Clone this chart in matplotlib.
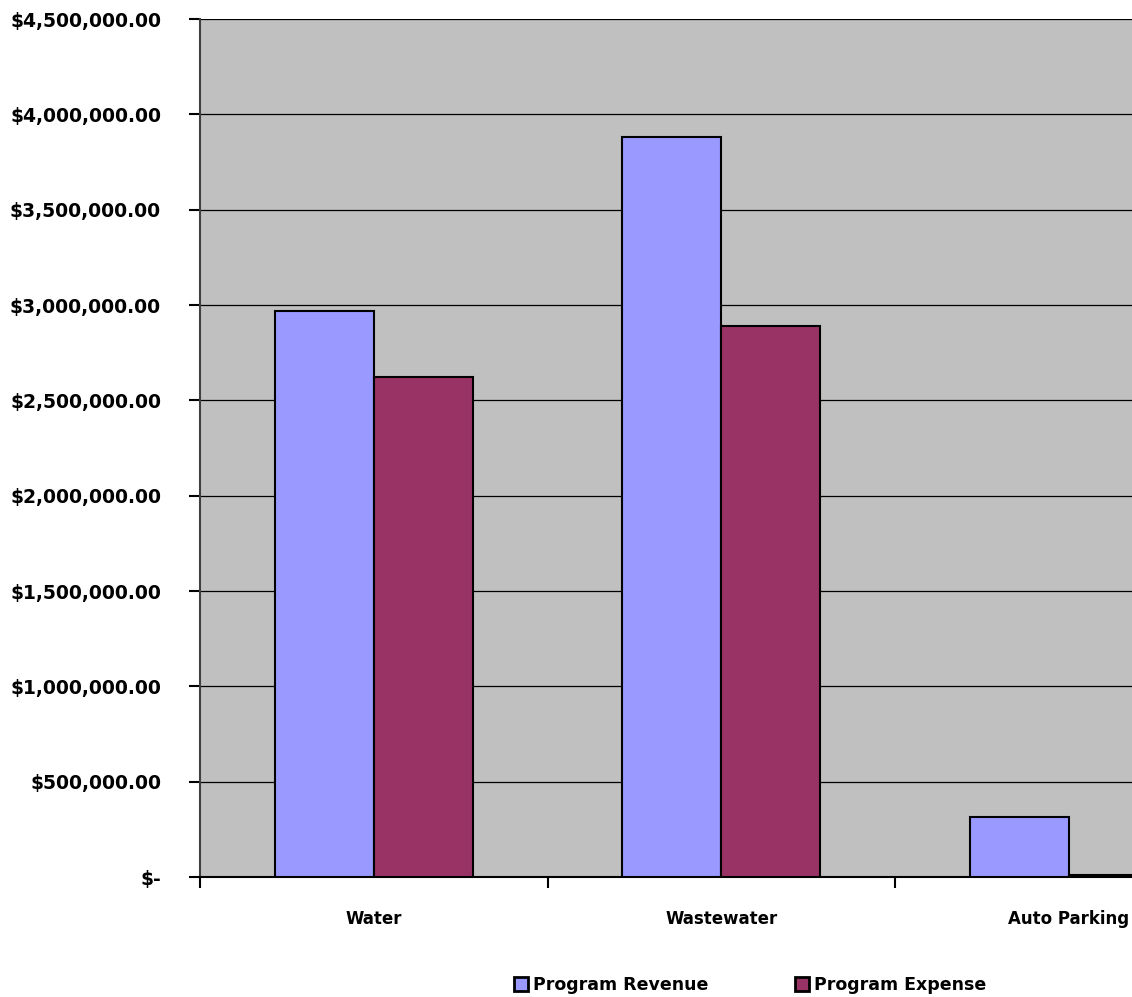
import matplotlib.pyplot as plt
import numpy
from matplotlib.ticker import FuncFormatter

categories = ["Water", "Wastewater", "Auto Parking"]
revenue = [2970000, 3880000, 315000]
expense = [2620000, 2890000, 12000]
series_names = ["Program Revenue", "Program Expense"]

revenue_color = "#9999FF"
expense_color = "#993366"

fig = plt.figure(figsize=(11.32, 9.97), dpi=100)
# plot area runs off the right edge of the figure
ax = fig.add_axes([200/1132, 1 - 877/997, 1042.5/1132, 858/997])
ax.set_facecolor("#C0C0C0")

x = numpy.arange(len(categories)) + 0.5
bar_width = 0.285
ax.bar(x - bar_width/2, revenue, bar_width, color=revenue_color,
       edgecolor="black", linewidth=1.5, label=series_names[0], zorder=3)
ax.bar(x + bar_width/2, expense, bar_width, color=expense_color,
       edgecolor="black", linewidth=1.5, label=series_names[1], zorder=3)

ax.set_xlim(0, len(categories))
ax.set_ylim(0, 4500000)
ax.set_yticks(numpy.arange(0, 4500001, 500000))
ax.yaxis.grid(True, color="black", linewidth=0.9, zorder=1)
ax.set_axisbelow(True)


def money(v, pos):
    if v == 0:
        return "$-"
    return "${:,.2f}".format(v)


ax.yaxis.set_major_formatter(FuncFormatter(money))
ax.set_xticks(numpy.arange(0, len(categories) + 1))
ax.set_xticklabels([])
ax.set_xticks(x, minor=True)
ax.set_xticklabels(categories, minor=True, fontsize=12, fontweight="bold")
ax.tick_params(axis="x", which="minor", length=0, pad=24)
ax.tick_params(axis="x", which="major", length=8, width=1.5, direction="out")
ax.tick_params(axis="y", length=8, width=1.5, direction="out", pad=20)
for lab in ax.get_yticklabels():
    lab.set_fontsize(13.5)
    lab.set_fontweight("bold")

for side in ["top", "right"]:
    ax.spines[side].set_visible(False)
ax.spines["left"].set_color("#404040")
ax.spines["left"].set_linewidth(1.5)
ax.spines["bottom"].set_linewidth(1.5)

leg = fig.legend(loc="center", bbox_to_anchor=(750/1132, 1 - 985/997), ncol=2,
                 frameon=False, prop={"weight": "bold", "size": 12.5},
                 handlelength=0.8, handleheight=0.8, columnspacing=5.0,
                 handletextpad=0.3)
for h in leg.legend_handles:
    h.set_linewidth(2)

fig.savefig("out.png", dpi=100)
